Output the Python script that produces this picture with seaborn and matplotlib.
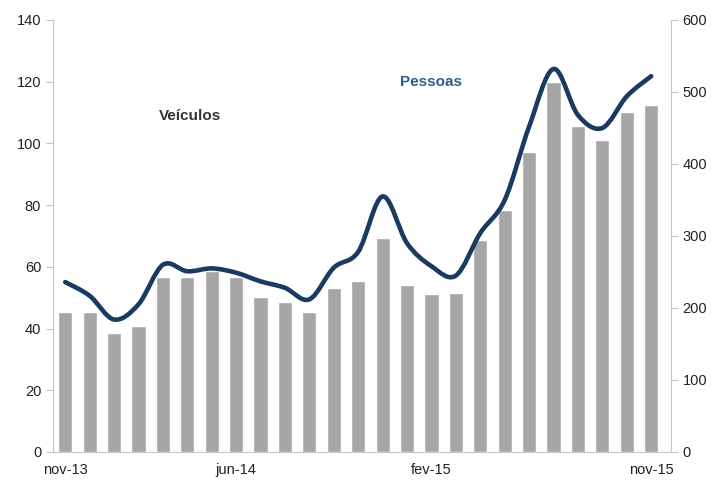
import numpy as np
import pandas as pd
import seaborn as sns
import matplotlib.pyplot as plt
from matplotlib.path import Path
from matplotlib.patches import PathPatch

# Monthly series, nov-13 .. nov-15
months = ["nov-13", "dez-13", "jan-14", "fev-14", "mar-14", "abr-14", "mai-14",
          "jun-14", "jul-14", "ago-14", "set-14", "out-14", "nov-14", "dez-14",
          "jan-15", "fev-15", "mar-15", "abr-15", "mai-15", "jun-15", "jul-15",
          "ago-15", "set-15", "out-15", "nov-15"]
veiculos = [45.3, 45.3, 38.5, 40.9, 56.6, 56.6, 58.6, 56.8, 50.1, 48.7, 45.3, 53.0, 55.5,
            69.2, 54.1, 51.1, 51.5, 68.8, 78.3, 97.2, 119.8, 105.5, 101.2, 110.2, 112.4]
pessoas = [236, 217, 184, 205, 260, 251, 255, 249, 237, 228, 212, 256, 278,
           355, 290, 258, 245, 304, 350, 452, 532, 468, 450, 494, 522]
label_months = ["nov-13", "jun-14", "fev-15", "nov-15"]

df = pd.DataFrame({"mes": months, "veiculos": veiculos, "pessoas": pessoas})
df["x"] = np.arange(len(df))

sns.set_style("white")
plt.rcParams["font.family"] = ["Liberation Sans", "DejaVu Sans"]

fig = plt.figure(figsize=(7.22, 4.83), dpi=100)
ax = fig.add_axes([0.0734, 0.0642, 0.8556, 0.8944])
ax2 = ax.twinx()

# bars on left axis
sns.barplot(data=df, x="x", y="veiculos", color="#a6a6a6", saturation=1,
            width=0.58, ax=ax, native_scale=True)
ax.set_xlim(-0.5, 24.8)
ax.set_ylim(0, 140)
ax.set_yticks(range(0, 141, 20))

# smoothed line on right axis (bezier through the monthly points, Excel style)
xs = df["x"].to_numpy(float)
ys = df["pessoas"].to_numpy(float)
verts = [(xs[0], ys[0])]
codes = [Path.MOVETO]
n = len(xs)
for i in range(n - 1):
    p0 = np.array([xs[max(i - 1, 0)], ys[max(i - 1, 0)]])
    p1 = np.array([xs[i], ys[i]])
    p2 = np.array([xs[i + 1], ys[i + 1]])
    p3 = np.array([xs[min(i + 2, n - 1)], ys[min(i + 2, n - 1)]])
    c1 = p1 + (p2 - p0) / 6
    c2 = p2 - (p3 - p1) / 6
    verts += [tuple(c1), tuple(c2), tuple(p2)]
    codes += [Path.CURVE4] * 3
ax2.add_patch(PathPatch(Path(verts, codes), fill=False, edgecolor="#1b3a61",
                        lw=3.3, capstyle="round", joinstyle="round"))
ax2.set_ylim(0, 600)
ax2.set_yticks(range(0, 601, 100))

# x axis: ticks at month edges, labels at month centres
pos = [months.index(m) for m in label_months]
ax.set_xticks(pos)
ax.set_xticklabels(label_months)
ax.set_xticks([p - 0.5 for p in pos], minor=True)
ax.tick_params(axis="x", which="major", length=0, pad=8)
ax.tick_params(axis="x", which="minor", length=5, color="#c9c5c1", width=1)
ax.set_xlabel("")
ax.set_ylabel("")
ax2.set_ylabel("")

for a in (ax, ax2):
    for s in a.spines.values():
        s.set_color("#c9c5c1")
    a.spines["top"].set_visible(False)
    a.tick_params(axis="y", length=5, color="#c9c5c1", labelsize=10.5,
                  labelcolor="#222222")
ax.tick_params(axis="x", labelsize=10.5, labelcolor="#222222")
ax.spines["right"].set_visible(False)
ax2.spines["left"].set_visible(False)
ax2.spines["bottom"].set_visible(False)

ax.text(5.1, 109, "Veículos", fontsize=11, fontweight="bold", color="#333333",
        ha="center", va="center")
ax2.text(15.0, 514, "Pessoas", fontsize=11, fontweight="bold", color="#2d5c8c",
         ha="center", va="center")

fig.savefig("out.png", dpi=100)
